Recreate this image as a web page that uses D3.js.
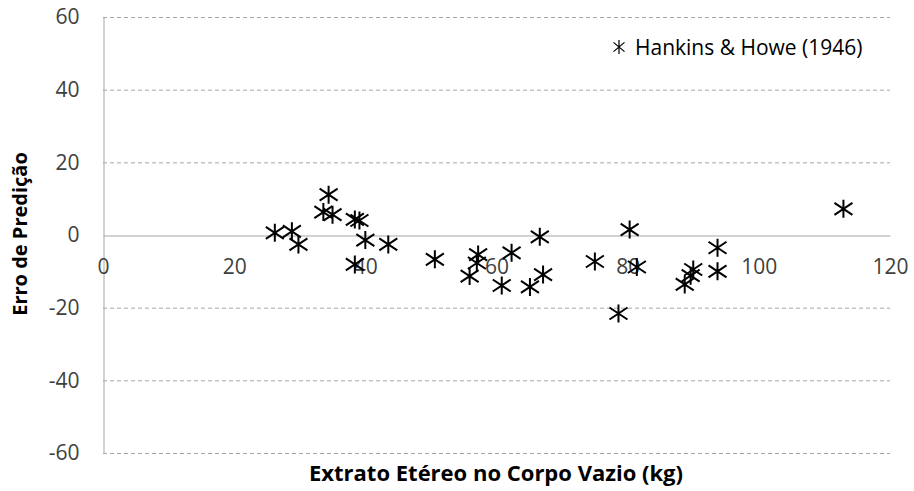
<!DOCTYPE html>
<html>
<head>
<meta charset="utf-8">
<script src="https://cdn.jsdelivr.net/npm/d3@7"></script>
<style>
  body { margin: 0; background: #fff; }
  svg { display: block; font-family: "Open Sans", Lato, sans-serif; }
</style>
</head>
<body>
<div id="chart"></div>
<script>
// extrato etéreo (kg) and erro de predição
var xValues = [26.2, 28.8, 29.8, 34.4, 33.6, 35.0, 38.4, 39.1, 40.0, 43.5,
               38.4, 50.6, 57.2, 57.0, 55.9, 62.3, 60.8, 65.1, 67.1, 66.6,
               75.0, 80.3, 81.4, 78.6, 88.7, 90.0, 89.6, 93.7, 93.7, 112.9];
var yValues = [0.6, 1.0, -2.6, 11.1, 6.3, 5.6, 4.3, 4.0, -1.4, -2.6,
               -8.1, -6.7, -5.4, -7.7, -11.3, -4.9, -13.9, -14.3, -10.9, -0.5,
               -7.3, 1.5, -8.8, -21.6, -13.6, -9.5, -11.2, -3.5, -10.0, 7.2];
var xTicks = [0, 20, 40, 60, 80, 100, 120];
var yTicks = [-60, -40, -20, 0, 20, 40, 60];
var seriesName = "Hankins & Howe (1946)";

var width = 914, height = 491;
var margin = {top: 17, right: 24, bottom: 38, left: 103};

var svg = d3.select('#chart').append('svg')
    .attr('width', width).attr('height', height);

var x = d3.scaleLinear().domain([0, 120]).range([margin.left, width - margin.right]);
var y = d3.scaleLinear().domain([-60, 60]).range([height - margin.bottom, margin.top]);

// dashed gridlines
svg.append('g').selectAll('line').data(yTicks.filter(function (d) { return d != 0; }))
    .enter().append('line')
    .attr('x1', x(0)).attr('x2', x(120))
    .attr('y1', function (d) { return y(d) + 0.5; })
    .attr('y2', function (d) { return y(d) + 0.5; })
    .attr('stroke', '#a6a6a6').attr('stroke-dasharray', '4,3');

// y axis
var yAxis = svg.append('g').attr('transform', 'translate(' + (x(0) + 0.5) + ',0)')
    .call(d3.axisLeft(y).tickValues(yTicks).tickSize(0).tickPadding(24)
        .tickFormat(function (d) { return String(d); }));
yAxis.select('.domain').attr('stroke', '#a6a6a6');
yAxis.selectAll('text').attr('font-size', 21).attr('fill', '#404040')
    .attr('font-family', '"Open Sans", sans-serif');

// x axis through zero
var xAxis = svg.append('g').attr('transform', 'translate(0,' + (y(0) + 0.5) + ')')
    .call(d3.axisBottom(x).tickValues(xTicks).tickSize(0).tickPadding(24)
        .tickFormat(function (d) { return String(d); }));
xAxis.select('.domain').attr('stroke', '#a6a6a6');
xAxis.selectAll('text').attr('font-size', 21).attr('fill', '#404040')
    .attr('font-family', '"Open Sans", sans-serif');

// asterisk marker
function star(w, h) {
    var a = w / 2, b = h / 2, d = h / 3;
    return 'M0,' + (-b) + 'V' + b +
           'M' + (-a) + ',' + (-d) + 'L' + a + ',' + d +
           'M' + (-a) + ',' + d + 'L' + a + ',' + (-d);
}

var points = xValues.map(function (v, i) { return {x: v, y: yValues[i]}; });
svg.append('g').selectAll('path').data(points).enter().append('path')
    .attr('transform', function (d) { return 'translate(' + x(d.x) + ',' + y(d.y) + ')'; })
    .attr('d', star(18, 18))
    .attr('fill', 'none').attr('stroke', '#000').attr('stroke-width', 2);

// legend
var legend = svg.append('g').attr('transform', 'translate(619,47)');
legend.append('path').attr('d', star(11, 14)).attr('fill', 'none')
    .attr('stroke', '#000').attr('stroke-width', 1.2);
legend.append('text').attr('x', 16).attr('y', 8)
    .attr('font-size', 21).attr('fill', '#000').text(seriesName);

// axis titles
svg.append('text').attr('x', 496).attr('y', 481)
    .attr('text-anchor', 'middle').attr('font-size', 22).attr('font-weight', 'bold')
    .text('Extrato Etéreo no Corpo Vazio (kg)');
svg.append('text').attr('transform', 'translate(27,234) rotate(-90)')
    .attr('text-anchor', 'middle').attr('font-size', 20).attr('font-weight', 'bold')
    .text('Erro de Predição');
</script>
</body>
</html>
